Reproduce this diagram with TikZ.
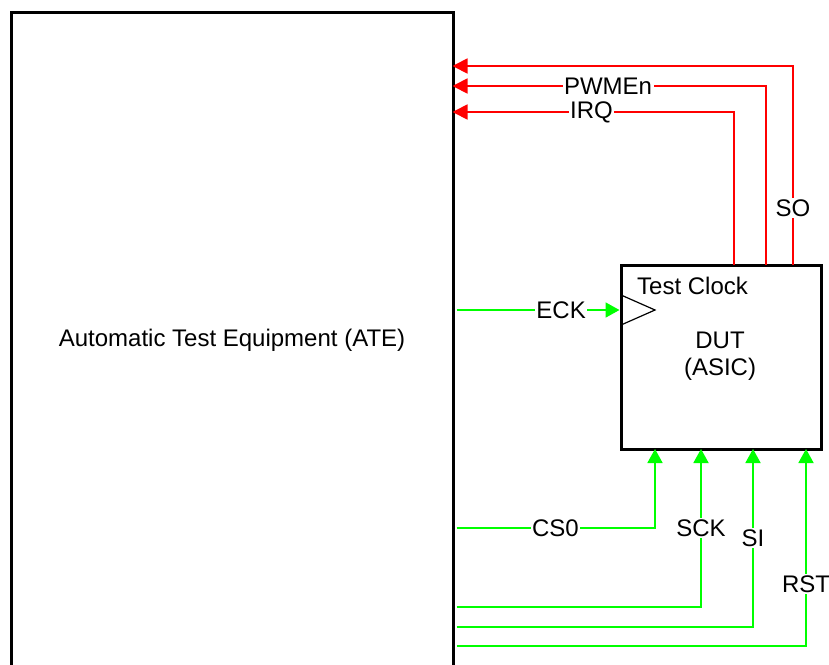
\documentclass[tikz,border=0pt]{standalone}
\usepackage{fontspec}
\setmainfont{Liberation Sans}
\usetikzlibrary{arrows.meta}
\begin{document}
\begin{tikzpicture}[
    x=1pt, y=-1pt,
    every node/.style={font=\fontsize{24}{27.5}\selectfont},
    box/.style={rectangle, draw, line width=3pt, fill=white, inner sep=0pt},
    outsig/.style={draw=red, line width=1.8pt, -{Triangle[length=15pt, width=15pt]}, red},
    insig/.style={draw=green, line width=1.8pt, -{Triangle[length=14pt, width=15pt]}, green},
    sig/.style={fill=white, text=black, inner sep=1.5pt}
]
\useasboundingbox (0,0) rectangle (829,664);
\clip (0,0) rectangle (829,664);
% -------------------------
% Blocks
% -------------------------
    \node[box, minimum width=442pt, minimum height=656pt] (ate) at (232, 340) {Automatic Test Equipment (ATE)};
    \node[box, minimum width=200pt, minimum height=184pt] (dut) at (721, 357) {};
    \node[align=center] (dutname) at (720, 356) {DUT\\(ASIC)};
    \node[anchor=north west, inner sep=0pt] (clk) at (637, 277) {Test Clock};
    \draw[line width=1.2pt] (621, 295) -- (655, 310) -- (621, 325);

% -------------------------
% Pins on the DUT
% -------------------------
    \coordinate (pirq) at (734, 265);
    \coordinate (ppwm) at (766, 265);
    \coordinate (pso) at (793, 265);
    \coordinate (pcs) at (655, 449);
    \coordinate (psck) at (701, 449);
    \coordinate (psi) at (753, 449);
    \coordinate (prst) at (806, 449);

% -------------------------
% Outputs (DUT -> ATE)
% -------------------------
    \draw[outsig] (pso) |- node[sig, pos=0.143] {SO} ([xshift=-2pt]ate.east |- 0,66);
    \draw[outsig] (ppwm) |- node[sig, pos=0.752] {PWMEn} ([xshift=-2pt]ate.east |- 0,86);
    \draw[outsig] (pirq) |- node[sig, pos=0.753] {IRQ} ([xshift=-2pt]ate.east |- 0,112);

% -------------------------
% Inputs (ATE -> DUT)
% -------------------------
    \draw[insig] ([xshift=2pt]ate.east |- 0,310) -- node[sig, pos=0.642] {ECK} (dut.west |- 0,310);
    \draw[insig] ([xshift=2pt]ate.east |- 0,528) -| node[sig, pos=0.249] {CS0} (pcs);
    \draw[insig] ([xshift=2pt]ate.east |- 0,607) -| node[sig, pos=0.75] {SCK} (psck);
    \draw[insig] ([xshift=2pt]ate.east |- 0,627) -| node[sig, pos=0.75] {SI} (psi);
    \draw[insig] ([xshift=2pt]ate.east |- 0,646) -| node[sig, pos=0.657] {RST} (prst);
\end{tikzpicture}
\end{document}
